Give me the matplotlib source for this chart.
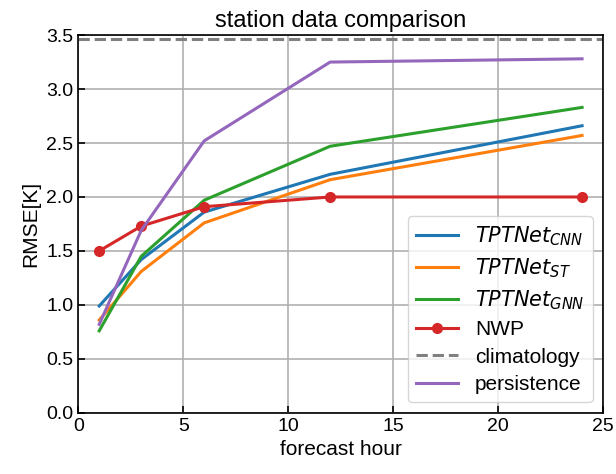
import matplotlib
matplotlib.use("Agg")
import matplotlib.pyplot as plt

hours = [1, 3, 6, 12, 24]
cnn = [0.99, 1.42, 1.86, 2.21, 2.66]
st = [0.86, 1.31, 1.76, 2.16, 2.57]
gnn = [0.76, 1.45, 1.97, 2.47, 2.83]
nwp = [1.50, 1.73, 1.91, 2.00, 2.00]
persistence = [0.82, 1.69, 2.52, 3.25, 3.28]
climatology = 3.46

plt.rcParams["font.family"] = ["Liberation Sans", "DejaVu Sans"]

fig = plt.figure(figsize=(6.16, 4.74), dpi=100)
ax = fig.add_axes([0.127, 0.129, 0.852, 0.797])

ax.plot(hours, cnn, color="tab:blue", lw=2.2, label=r"$TPTNet_{CNN}$")
ax.plot(hours, st, color="tab:orange", lw=2.2, label=r"$TPTNet_{ST}$")
ax.plot(hours, gnn, color="tab:green", lw=2.2, label=r"$TPTNet_{GNN}$")
ax.plot(hours, nwp, color="tab:red", lw=2.2, marker="o", markersize=7, label="NWP")
ax.axhline(climatology, color="gray", lw=2.2, ls="--", label="climatology")
ax.plot(hours, persistence, color="tab:purple", lw=2.2, label="persistence")

ax.set_xlim(0, 25)
ax.set_ylim(0, 3.5)
ax.set_xticks([0, 5, 10, 15, 20, 25])
ax.set_yticks([0, 0.5, 1.0, 1.5, 2.0, 2.5, 3.0, 3.5])
ax.tick_params(direction="in", length=5, width=1.2, labelsize=14)
for s in ax.spines.values():
    s.set_linewidth(1.2)
ax.grid(True, color="#b0b0b0", lw=1.2)
ax.set_xlabel("forecast hour", fontsize=15)
ax.set_ylabel("RMSE[K]", fontsize=15)
ax.set_title("station data comparison", fontsize=17)
ax.legend(loc="lower right", fontsize=15, labelspacing=0.4)

fig.savefig("out.png", dpi=100)
